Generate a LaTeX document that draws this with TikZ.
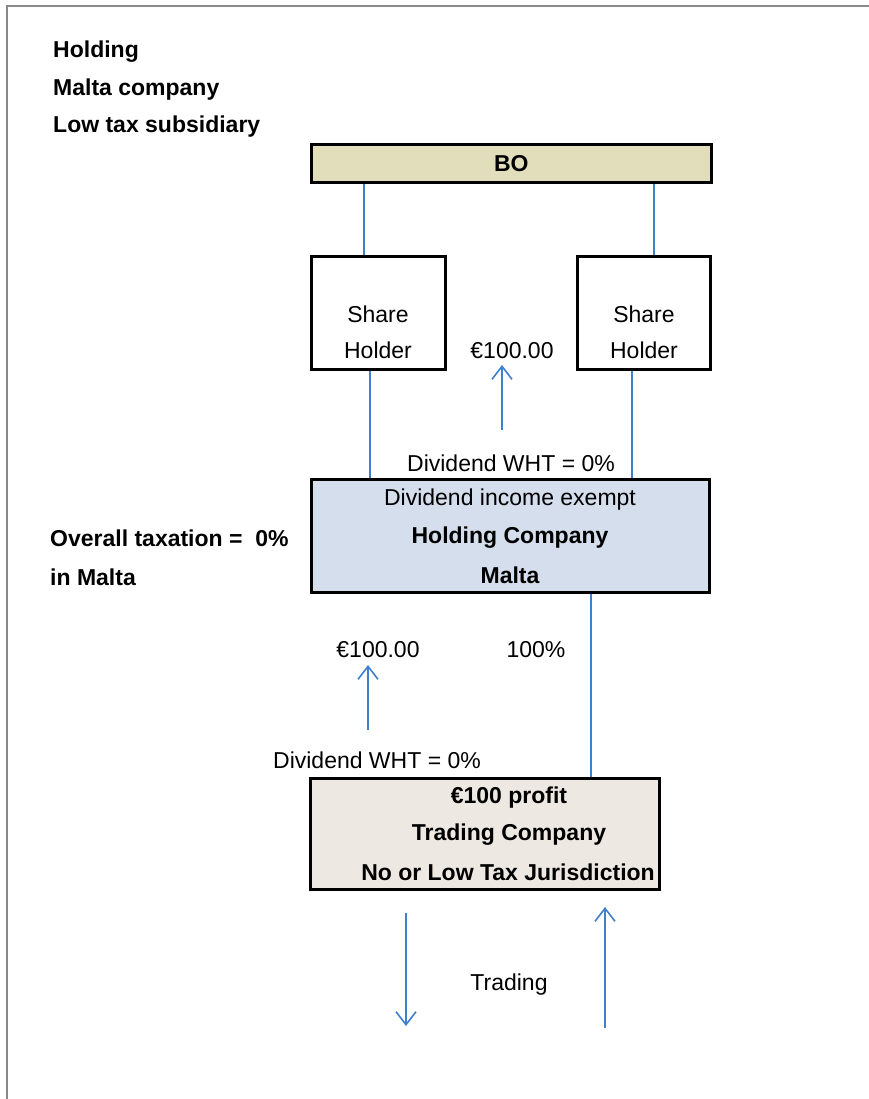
\documentclass[tikz,border=0pt]{standalone}
\usepackage{fontspec}
\setmainfont{Liberation Sans}
\usetikzlibrary{arrows.meta}
\definecolor{boFill}{HTML}{E2DEBC}
\definecolor{hcFill}{HTML}{D5DEEC}
\definecolor{tcFill}{HTML}{EEE8E2}
\definecolor{lineBlue}{HTML}{3F7FCB}
\definecolor{frameGray}{HTML}{8A8A8A}
\tikzset{
  box/.style={draw=black, line width=2.6pt, inner sep=0pt, anchor=north west},
  txt/.style={inner sep=0pt, font=\fontsize{23}{27}\selectfont},
  btxt/.style={inner sep=0pt, font=\fontsize{23}{27}\selectfont\bfseries},
  link/.style={draw=lineBlue, line width=1.6pt},
  flow/.style={draw=lineBlue, line width=1.6pt, -{Straight Barb[length=13pt,width=20pt,line width=1.6pt]}},
}
\begin{document}
\begin{tikzpicture}[x=1pt,y=-1pt]
\useasboundingbox (0,0) rectangle (869,1099);
% frame
\draw[frameGray, line width=1.4pt] (7,1099) -- (7,6) -- (869,6);
% left texts
\node[btxt, anchor=west] (t1) at (53,52) {Holding};
\node[btxt, anchor=west] (t2) at (53,90) {Malta company};
\node[btxt, anchor=west] (t3) at (53,127) {Low tax subsidiary};
\node[btxt, anchor=west] (ov1) at (50,538) {Overall taxation =\ \ 0\%};
\node[btxt, anchor=west] (ov2) at (50,577) {in Malta};
% boxes
\node[box, fill=boFill, minimum width=400pt, minimum height=38pt] (bo) at (310,143) {};
\node[btxt] at (bo.center) {BO};
\node[box, minimum width=134pt, minimum height=113pt] (sh1) at (310,255) {};
\node[box, minimum width=133pt, minimum height=113pt] (sh2) at (576,255) {};
\node[txt] at (378,314) {Share};
\node[txt] at (378,350) {Holder};
\node[txt] at (644,314) {Share};
\node[txt] at (644,350) {Holder};
\node[box, fill=hcFill, minimum width=398pt, minimum height=113pt] (hc) at (310,478) {};
\node[txt] at (510,500) {Dividend income exempt};
\node[btxt] at (510,538) {Holding Company};
\node[btxt] at (510,575) {Malta};
\node[box, fill=tcFill, minimum width=349pt, minimum height=111pt] (tc) at (309,777) {};
\node[btxt] at (509,798) {€100 profit};
\node[btxt] at (509,835) {Trading Company};
\node[btxt] at (508,872) {No or Low Tax Jurisdiction};
% labels
\node[txt] (d1) at (512,351) {€100.00};
\node[txt] (w1) at (511,463) {Dividend WHT = 0\%};
\node[txt] (d2) at (378,650) {€100.00};
\node[txt] (p100) at (536,650) {100\%};
\node[txt] (w2) at (377,760) {Dividend WHT = 0\%};
\node[txt] (tr) at (509,985) {Trading};
% connectors
\draw[link] (bo.south -| 364,0) -- (sh1.north -| 364,0);
\draw[link] (bo.south -| 654,0) -- (sh2.north -| 654,0);
\draw[link] (sh1.south -| 370,0) -- (hc.north -| 370,0);
\draw[link] (sh2.south -| 632,0) -- (hc.north -| 632,0);
\draw[link] (hc.south -| 591,0) -- (tc.north -| 591,0);
\coordinate (a1s) at (502,430);
\coordinate (a1e) at (502,365);
\coordinate (a2s) at (368,730);
\coordinate (a2e) at (368,665);
\coordinate (a3s) at (406,913);
\coordinate (a3e) at (406,1026);
\coordinate (a4s) at (605,1028);
\coordinate (a4e) at (605,907);
\draw[flow] (a1s) -- (a1e);
\draw[flow] (a2s) -- (a2e);
\draw[flow] (a3s) -- (a3e);
\draw[flow] (a4s) -- (a4e);
\end{tikzpicture}
\end{document}
